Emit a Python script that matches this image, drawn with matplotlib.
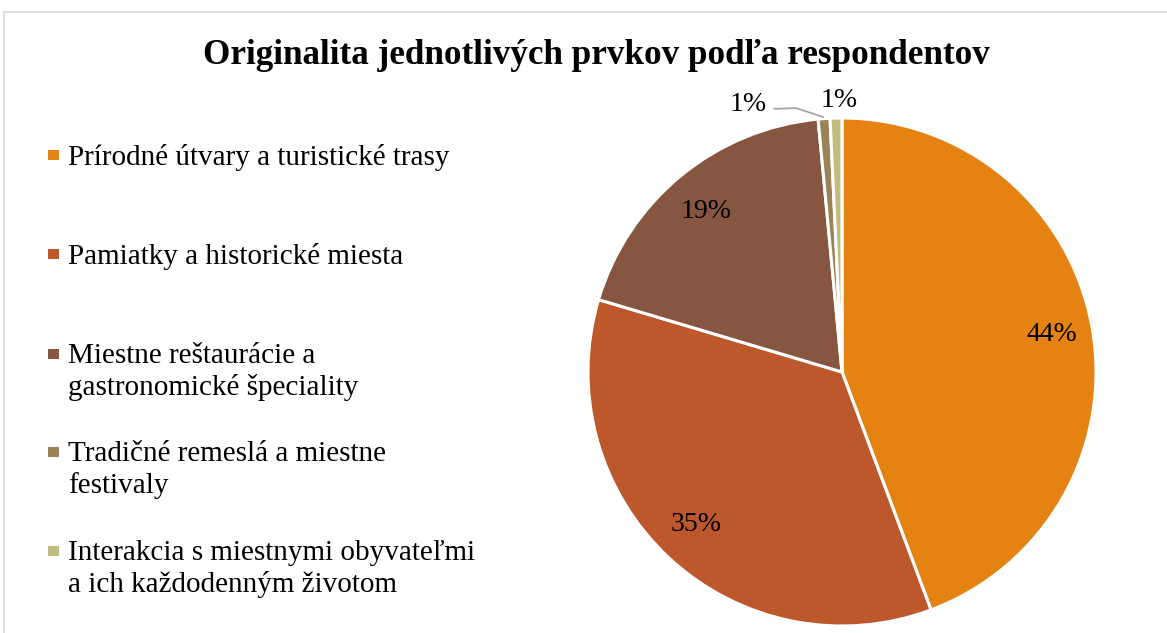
import numpy as np
import matplotlib.pyplot as plt
from matplotlib.patches import Rectangle

title = 'Originalita jednotlivých prvkov podľa respondentov'
categories = ['Prírodné útvary a turistické trasy',
              'Pamiatky a historické miesta',
              'Miestne reštaurácie a\ngastronomické špeciality',
              'Tradičné remeslá a miestne\nfestivaly',
              'Interakcia s miestnymi obyvateľmi\na ich každodenným životom']
shares = [44.3, 35.3, 18.9, 0.75, 0.75]
colors = ['#E48312', '#BD582C', '#865640', '#9B8357', '#C2BC80']

plt.rcParams['font.family'] = ['Liberation Serif', 'DejaVu Serif']

W, H = 1167, 633
fig = plt.figure(figsize=(W / 100, H / 100), dpi=100)

# chart border
fig.add_artist(Rectangle((4 / W, -0.05), 1.1, 1 - 12 / H + 0.05, transform=fig.transFigure,
                         fill=False, edgecolor='#D9D9D9', lw=1.2))

fig.text(596 / W, 1 - 55 / H, title, ha='center', va='center', fontsize=25.3, fontweight='bold')

# pie
cx, cy, r = 842, 372, 254
ax = fig.add_axes([(cx - r) / W, (H - cy - r) / H, 2 * r / W, 2 * r / H])
wedges, _ = ax.pie(shares, colors=colors, startangle=90, counterclock=False,
                   wedgeprops=dict(edgecolor='white', linewidth=2.2))
ax.set_xlim(-1, 1)
ax.set_ylim(-1, 1)
ax.set_aspect('equal')
ax.axis('off')

for i, w in enumerate(wedges):
    ang = np.deg2rad((w.theta1 + w.theta2) / 2)
    txt = '{:.0f}%'.format(shares[i])
    if shares[i] > 5:
        ax.text(0.84 * np.cos(ang), 0.82 * np.sin(ang), txt, ha='center', va='center', fontsize=20)
    elif i == 3:
        # label pulled to the left with a leader line
        ax.text(-0.37, 1.052, txt, ha='center', va='center', fontsize=20)
        ax.plot([-0.27, -0.18, np.cos(ang)], [1.036, 1.039, np.sin(ang) + 0.005],
                color='#A6A6A6', lw=1.3, clip_on=False, solid_capstyle='butt')
    else:
        ax.text(np.cos(ang) + 0.012, 1.07, txt, ha='center', va='center', fontsize=20)

# legend
leg_y = [155, 254, 354, 452, 551]
for i, lab in enumerate(categories):
    fig.add_artist(Rectangle((48 / W, 1 - (leg_y[i] + 5) / H), 11 / W, 10 / H,
                             transform=fig.transFigure, facecolor=colors[i], edgecolor='none'))
    fig.text(68 / W, 1 - (leg_y[i] - 11) / H, lab, ha='left', va='top', fontsize=21, linespacing=1.26)

fig.savefig('out.png', dpi=100)
